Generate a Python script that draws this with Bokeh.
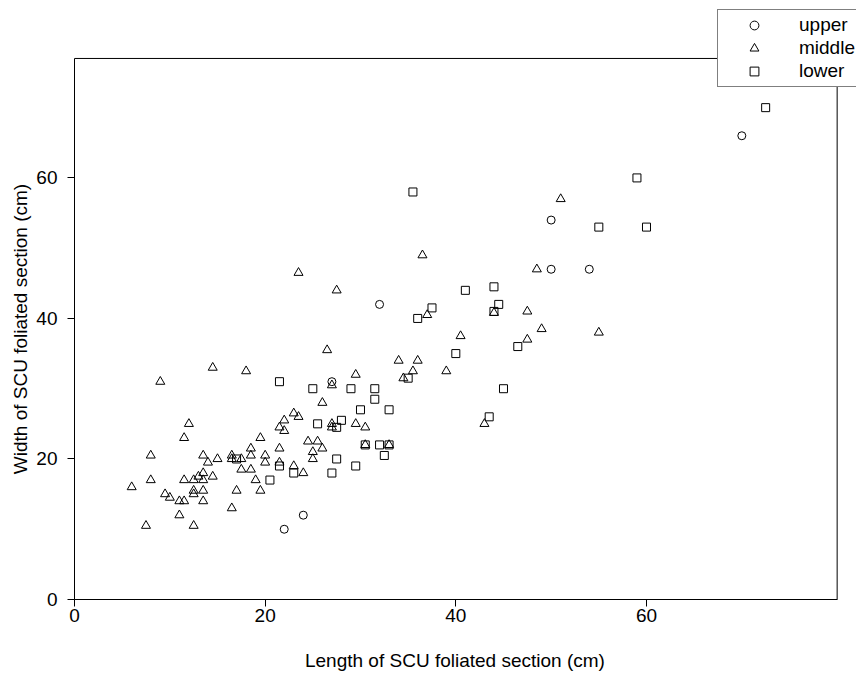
from bokeh.plotting import figure
from bokeh.models import Range1d, FixedTicker, Legend, LegendItem
from bokeh.embed import file_html
from bokeh.resources import INLINE

upper_x = [22, 24, 27, 32, 50, 50, 54, 70]
upper_y = [10, 12, 31, 42, 54, 47, 47, 66]

middle_x = [9, 12, 11.5, 8, 13.5, 14, 8, 6, 11.5, 12.5, 13, 13.5, 13.5, 14.5, 9.5, 10,
            12.5, 12.5, 13.5, 11, 11.5, 13.5, 11, 7.5, 12.5, 14.5, 18, 15, 16.5, 16.5,
            17.5, 18.5, 18.5, 17.5, 18.5, 19, 19.5, 17, 16.5, 19.5, 20, 20, 21.5, 21.5,
            23, 24, 21.5, 22, 22, 23, 23.5, 26, 27, 27, 27, 24.5, 25.5, 25, 26, 25,
            23.5, 27.5, 26.5, 29.5, 29.5, 30.5, 30.5, 33, 34, 36, 35.5, 39, 34.5, 37,
            40.5, 36.5, 51, 48.5, 44, 47.5, 49, 47.5, 43, 55]
middle_y = [31, 25, 23, 20.5, 20.5, 19.5, 17, 16, 17, 17, 17.5, 18, 17, 17.5, 15, 14.5,
            15.5, 15, 15.5, 14, 14, 14, 12, 10.5, 10.5, 33, 32.5, 20, 20.5, 20,
            20, 21.5, 20.5, 18.5, 18.5, 17, 15.5, 15.5, 13, 23, 20.5, 19.5, 21.5, 19.5,
            19, 18, 24.5, 24, 25.5, 26.5, 26, 28, 30.5, 25, 24.5, 22.5, 22.5, 21, 21.5, 20,
            46.5, 44, 35.5, 32, 25, 24.5, 22, 22, 34, 34, 32.5, 32.5, 31.5, 40.5,
            37.5, 49, 57, 47, 40.8, 41, 38.5, 37, 25, 38]

lower_x = [21.5, 25, 25.5, 27.5, 28, 27.5, 27, 17, 21.5, 23, 20.5, 29, 31.5, 31.5, 30,
           33, 30.5, 32, 33, 32.5, 29.5, 37.5, 36, 40, 35, 35.5, 41, 44, 44.5, 44,
           46.5, 45, 43.5, 59, 55, 60, 72.5]
lower_y = [31, 30, 25, 24.5, 25.5, 20, 18, 20, 19, 18, 17, 30, 30, 28.5, 27,
           27, 22, 22, 22, 20.5, 19, 41.5, 40, 35, 31.5, 58, 44, 44.5, 42, 41,
           36, 30, 26, 60, 53, 53, 70]

group_names = ["upper", "middle", "lower"]
tick_values = [0, 20, 40, 60]

# plot box limits (axis limits of the original chart)
box_x = (0, 80)
box_y = (0, 77)

FONT = "Liberation Sans"
FS = "19px"
NB = "\u00a0"

# the frame is enlarged to reach the top/right edges of the page so that the
# legend (which sits partly outside the plot box) is not clipped
p = figure(width=856, height=673, output_backend="svg", toolbar_location=None,
           x_range=Range1d(0, 82.03), y_range=Range1d(0, 85.25),
           min_border_left=74, min_border_top=0, min_border_right=0, min_border_bottom=72)

p.background_fill_color = "white"
p.border_fill_color = "white"
p.outline_line_color = None
p.xgrid.visible = False
p.ygrid.visible = False

for ax in (p.xaxis[0], p.yaxis[0]):
    ax.ticker = FixedTicker(ticks=tick_values)
    ax.minor_tick_line_color = None
    ax.major_tick_in = 0
    ax.major_tick_out = 7
    ax.major_tick_line_color = "black"
    ax.axis_line_color = "black"
    ax.major_label_text_font = FONT
    ax.major_label_text_font_size = FS
    ax.major_label_text_color = "black"
    ax.axis_label_text_font = FONT
    ax.axis_label_text_font_size = FS
    ax.axis_label_text_font_style = "normal"
    ax.axis_label_text_color = "black"

p.xaxis.bounds = box_x
p.yaxis.bounds = box_y
# trailing no-break spaces centre the titles on the plot box rather than the frame
p.xaxis.axis_label = "Length of SCU foliated section (cm)" + NB * 4
p.yaxis.axis_label = "Width of SCU foliated section (cm)" + NB * 11
p.xaxis.major_label_standoff = 2
p.xaxis.axis_label_standoff = 25
p.yaxis.major_label_standoff = 10
p.yaxis.axis_label_standoff = 2

# plot box
p.quad(left=[box_x[0]], right=[box_x[1]], bottom=[box_y[0]], top=[box_y[1]],
       fill_color=None, line_color="black", line_width=1)

r_up = p.scatter(upper_x, upper_y, marker="circle", size=8, fill_color=None,
                 line_color="black", line_width=1)
r_mid = p.scatter(middle_x, middle_y, marker="triangle", size=9, fill_color=None,
                  line_color="black", line_width=1)
r_low = p.scatter(lower_x, lower_y, marker="square", size=8, fill_color=None,
                  line_color="black", line_width=1)

legend = Legend(items=[LegendItem(label=group_names[0], renderers=[r_up]),
                       LegendItem(label=group_names[1], renderers=[r_mid]),
                       LegendItem(label=group_names[2], renderers=[r_low])],
                location=(643, 512))
legend.glyph_width = 64
legend.glyph_height = 22
legend.label_height = 22
legend.label_standoff = 13
legend.padding = 4
legend.spacing = 1
legend.margin = 0
legend.border_line_color = "black"
legend.border_line_width = 1
legend.background_fill_color = "white"
legend.background_fill_alpha = 1
legend.label_text_font = FONT
legend.label_text_font_size = FS
legend.label_text_color = "black"
p.add_layout(legend, "center")

open("out.html", "w").write(file_html(p, INLINE))
